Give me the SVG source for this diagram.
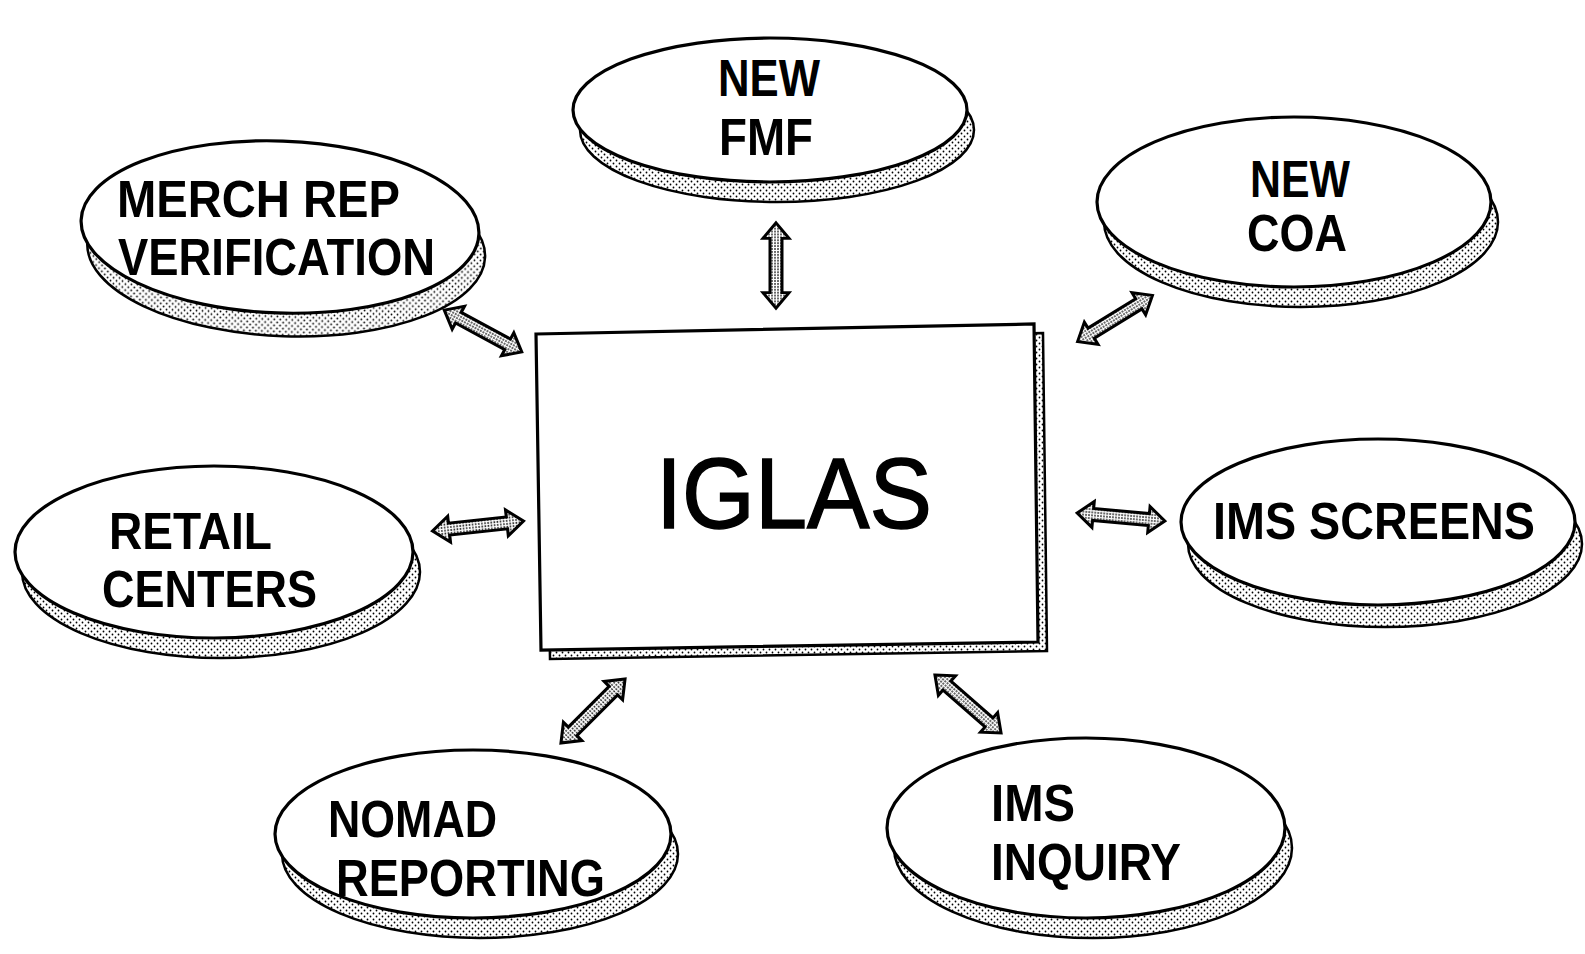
<svg xmlns="http://www.w3.org/2000/svg" xmlns:xlink="http://www.w3.org/1999/xlink" width="1585" height="954" viewBox="0 0 1585 954">
<style>
.bg{fill:#ffffff}
.sh{fill:url(#dots);stroke:#000;stroke-width:2.5}
.el{fill:#ffffff;stroke:#000;stroke-width:3.2}
.lbl{font-family:"Liberation Sans",Arial,sans-serif;font-weight:bold;font-size:52px;fill:#000}
.big{font-family:"Liberation Sans",Arial,sans-serif;font-weight:normal;font-size:100px;fill:#000;stroke:#000;stroke-width:1.5}
.arr{fill:url(#dense);stroke:#000;stroke-width:3;stroke-linejoin:miter}
</style>
<defs>
<pattern id="dots" width="6" height="6" patternUnits="userSpaceOnUse">
<rect width="6" height="6" fill="#fff"/>
<circle cx="1.5" cy="1.5" r="0.9" fill="#000"/>
<circle cx="4.5" cy="4.5" r="0.9" fill="#000"/>
</pattern>
<pattern id="dense" width="3" height="3" patternUnits="userSpaceOnUse">
<rect width="3" height="3" fill="#fff"/>
<circle cx="1" cy="1" r="0.9" fill="#222"/>
</pattern>
<path id="arr" d="M-44,0 L-28,-13 L-28,-6 L28,-6 L28,-13 L44,0 L28,13 L28,6 L-28,6 L-28,13 Z"/>
</defs>
<rect class="bg" x="0" y="0" width="1585" height="954"/>

<g id="connectors">
<use href="#arr" class="arr" transform="translate(483,331) rotate(28.3)"/>
<use href="#arr" class="arr" transform="translate(776,265.5) rotate(90) scale(0.97,1)"/>
<use href="#arr" class="arr" transform="translate(1115,318.5) rotate(-31.7)"/>
<use href="#arr" class="arr" transform="translate(478,526) rotate(-6.2) scale(1.04,1)"/>
<use href="#arr" class="arr" transform="translate(1121,517) rotate(5.2)"/>
<use href="#arr" class="arr" transform="translate(593,711) rotate(-45) scale(1.03,1)"/>
<use href="#arr" class="arr" transform="translate(968,704) rotate(41.3)"/>
</g>

<g id="iglas">
<polygon class="sh" points="545,343 1043,333 1047,651 550,659"/>
<polygon class="el" points="536,334 1034,324 1038,642 541,650"/>
<text class="big" x="656" y="528" textLength="276" lengthAdjust="spacingAndGlyphs">IGLAS</text>
</g>

<g id="merch-rep" transform="rotate(2 280 227)">
<ellipse class="sh" cx="287" cy="250" rx="199" ry="86"/>
<ellipse class="el" cx="280" cy="227" rx="199" ry="86"/>
</g>
<g id="merch-rep-text">
<text class="lbl" x="117" y="217" textLength="283" lengthAdjust="spacingAndGlyphs">MERCH REP</text>
<text class="lbl" x="118" y="275" textLength="317" lengthAdjust="spacingAndGlyphs">VERIFICATION</text>
</g>

<g id="new-fmf">
<ellipse class="sh" cx="777" cy="130" rx="197" ry="72"/>
<ellipse class="el" cx="770" cy="110" rx="197" ry="72"/>
<text class="lbl" x="718" y="96" textLength="102" lengthAdjust="spacingAndGlyphs">NEW</text>
<text class="lbl" x="719" y="155" textLength="94" lengthAdjust="spacingAndGlyphs">FMF</text>
</g>

<g id="new-coa">
<ellipse class="sh" cx="1301" cy="222" rx="197" ry="85"/>
<ellipse class="el" cx="1294" cy="202" rx="197" ry="85"/>
<text class="lbl" x="1250" y="197" textLength="100" lengthAdjust="spacingAndGlyphs">NEW</text>
<text class="lbl" x="1247" y="251" textLength="100" lengthAdjust="spacingAndGlyphs">COA</text>
</g>

<g id="retail-centers">
<ellipse class="sh" cx="221" cy="572" rx="199" ry="86"/>
<ellipse class="el" cx="214" cy="552" rx="199" ry="86"/>
<text class="lbl" x="109" y="549" textLength="163" lengthAdjust="spacingAndGlyphs">RETAIL</text>
<text class="lbl" x="102" y="607" textLength="215" lengthAdjust="spacingAndGlyphs">CENTERS</text>
</g>

<g id="ims-screens">
<ellipse class="sh" cx="1385" cy="544" rx="197" ry="83"/>
<ellipse class="el" cx="1378" cy="522" rx="197" ry="83"/>
<text class="lbl" x="1213" y="539" textLength="322" lengthAdjust="spacingAndGlyphs">IMS SCREENS</text>
</g>

<g id="nomad-reporting">
<ellipse class="sh" cx="480" cy="854" rx="198" ry="84"/>
<ellipse class="el" cx="473" cy="834" rx="198" ry="84"/>
<text class="lbl" x="328" y="837" textLength="169" lengthAdjust="spacingAndGlyphs">NOMAD</text>
<text class="lbl" x="336" y="896" textLength="269" lengthAdjust="spacingAndGlyphs">REPORTING</text>
</g>

<g id="ims-inquiry">
<ellipse class="sh" cx="1093" cy="848" rx="199" ry="90"/>
<ellipse class="el" cx="1086" cy="828" rx="199" ry="90"/>
<text class="lbl" x="991" y="821" textLength="84" lengthAdjust="spacingAndGlyphs">IMS</text>
<text class="lbl" x="991" y="880" textLength="190" lengthAdjust="spacingAndGlyphs">INQUIRY</text>
</g>
</svg>
